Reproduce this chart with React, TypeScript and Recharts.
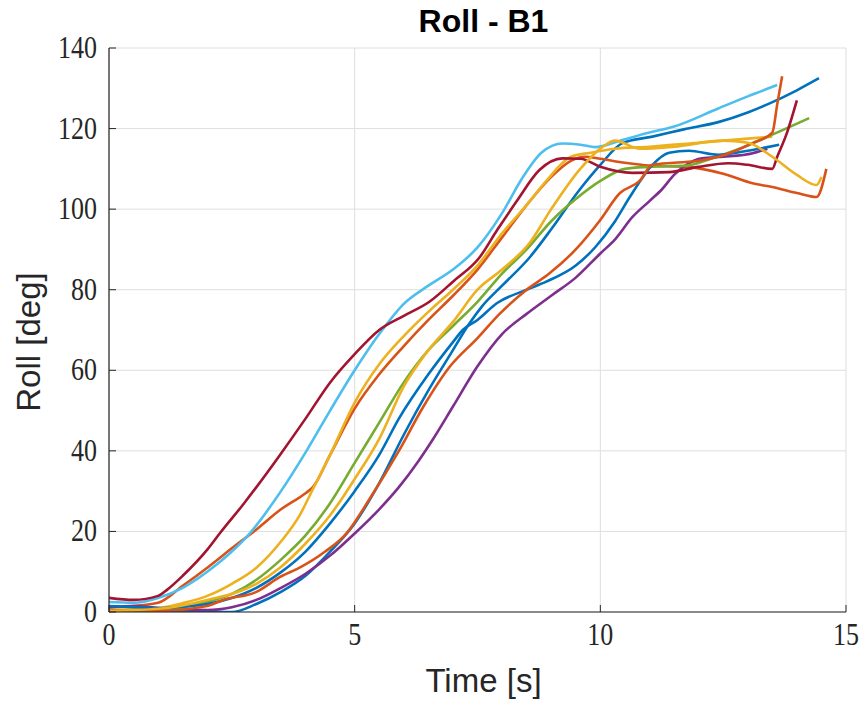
import { CartesianGrid, Line, LineChart, XAxis, YAxis } from "recharts";

const W = 865;
const H = 708;
const AXIS = "#262626";
const GRID = "#dedede";
const TICK_MARGIN = 12;

const X_TICKS = [0, 5, 10, 15];
const Y_TICKS = [0, 20, 40, 60, 80, 100, 120, 140];

// [time s, roll deg], one array per run
const blueA: [number, number][] = [
  [0, 0.5], [0.5, 0.4], [1, 0.2], [1.5, 0.2], [2, 0.1], [2.5, 0], [3, 2], [3.5, 5], [4, 9], [4.5, 15],
  [5, 22], [5.5, 32], [6, 44], [6.5, 55], [7, 65], [7.3, 71], [7.6, 76], [8, 81], [8.56, 88], [9, 95],
  [9.57, 104.7], [10, 111], [10.45, 116.4], [11.06, 118], [11.7, 119.8], [12.4, 121.6], [13, 124],
  [13.4, 126], [14, 129.5], [14.45, 132.5],
];
const orangeA: [number, number][] = [
  [0, 1.2], [0.5, 1.5], [1, 2.3], [1.5, 6.5], [2, 11], [2.52, 16], [3, 20.5], [3.5, 25.5], [4, 29.5],
  [4.15, 31], [4.5, 39], [5, 50.5], [5.5, 59], [6, 66], [6.5, 72.5], [7, 78.5], [7.5, 85], [8, 93],
  [8.5, 101], [9, 108], [9.4, 112], [9.7, 113], [10, 112.5], [10.5, 111.5], [11, 110.8], [11.75, 110.5],
  [12.5, 108.8], [13.1, 106.4], [13.5, 105.5], [14, 104], [14.4, 103], [14.6, 110],
];
const yellowA: [number, number][] = [
  [0, 0.5], [0.5, 0.7], [1, 1], [1.5, 2.2], [2, 4], [2.5, 7], [3, 11], [3.5, 17.5], [3.88, 24],
  [4.15, 30.5], [4.5, 39], [5, 52], [5.5, 61.5], [6, 68.5], [6.5, 74.5], [7, 80], [7.5, 86], [8, 94],
  [8.5, 101], [8.9, 107], [9.4, 113], [9.8, 114], [10.3, 115], [11, 115.5], [12, 116.5], [13, 117.5],
  [13.5, 118],
];
const purple: [number, number][] = [
  [0, 1.2], [0.5, 1.5], [1, 1], [1.5, 0.6], [2, 0.5], [2.5, 1.2], [3, 3], [3.5, 6], [4, 9.5],
  [4.5, 14], [5, 19.5], [5.5, 25.5], [5.9, 31], [6.3, 37.5], [6.6, 43], [7, 51], [7.5, 61], [8, 69],
  [8.5, 74], [9, 78.5], [9.5, 83], [10, 89], [10.3, 92.5], [10.65, 98], [11, 102], [11.26, 105],
  [11.5, 108.5], [11.75, 111], [12.07, 112.6], [12.5, 113], [13.1, 113.9], [13.4, 115],
];
const green: [number, number][] = [
  [0, 0.3], [0.5, 0.2], [1, 0.5], [1.5, 1.2], [2, 2.5], [2.5, 4.5], [3, 8], [3.5, 13], [4, 19],
  [4.5, 27], [5, 37], [5.5, 47], [6, 57], [6.5, 65], [7, 71], [7.5, 77], [8, 84], [8.5, 90], [9, 97],
  [9.5, 102.5], [10, 107], [10.5, 110], [11, 110.5], [11.75, 110.8], [12.25, 112.5], [12.75, 114.6],
  [13.5, 118.5], [14.25, 122.6],
];
const lightBlue: [number, number][] = [
  [0, 2.5], [0.5, 2.3], [1, 3.5], [1.5, 6], [2, 10], [2.5, 15], [2.87, 19.6], [3.5, 30], [4.02, 40],
  [4.5, 50], [5, 60], [5.5, 69], [6, 76.5], [6.5, 81], [7, 85], [7.5, 90.5], [8, 99], [8.4, 107.5],
  [8.8, 114], [9.23, 116.3], [9.6, 116], [9.9, 115.4], [10.4, 117], [11, 119], [11.5, 120.5],
  [12.4, 125], [13, 128], [13.6, 130.8],
];
const darkRed: [number, number][] = [
  [0, 3.5], [0.5, 3], [1, 4], [1.18, 5.5], [1.5, 9], [2, 15.5], [2.26, 19.6], [2.75, 27], [3, 31],
  [3.48, 39], [4, 48], [4.49, 56.8], [5, 64], [5.5, 70], [6, 73.5], [6.52, 77], [7, 82], [7.54, 88],
  [7.9, 94.8], [8.3, 102], [8.76, 109.7], [9.23, 112.6], [9.6, 112.5], [10, 110.5], [10.65, 109],
  [11.4, 109.2], [12, 110.5], [12.6, 111.4], [13, 111], [13.5, 110], [13.6, 113], [13.8, 119], [14, 127],
];
const blueB: [number, number][] = [
  [0, 1.5], [0.5, 1.2], [1, 1], [1.5, 1.3], [2, 2], [2.5, 3.5], [3, 6], [3.48, 9.7], [4, 15], [4.5, 22],
  [5, 30], [5.5, 39], [5.9, 48], [6.5, 59], [7, 67], [7.2, 70], [7.5, 72.5], [7.9, 76.7], [8.5, 80],
  [8.9, 82], [9.5, 86], [9.9, 90.6], [10.3, 97], [10.6, 103], [11.06, 111], [11.4, 114], [11.8, 114.5],
  [12.4, 113.5], [13, 114.5], [13.64, 116],
];
const orangeB: [number, number][] = [
  [0, 0.5], [1, 0.3], [2, 1.5], [2.32, 3], [3, 5], [3.48, 8.7], [3.88, 11], [4.4, 15], [4.84, 19.6],
  [5.3, 28], [5.9, 40], [6.4, 51], [6.93, 60.8], [7.5, 68], [7.95, 74], [8.5, 80], [8.96, 84], [9.5, 90],
  [9.98, 97], [10.4, 104], [10.8, 107], [11.06, 111], [11.5, 111.5], [12, 112], [12.4, 113],
  [13.1, 116.4], [13.5, 119], [13.6, 126], [13.7, 133],
];
const yellowB: [number, number][] = [
  [0, 0.3], [1, 0.8], [2, 3], [3, 7], [3.48, 11], [4, 17], [4.5, 24], [4.76, 28.5], [5, 33], [5.5, 43],
  [6, 56], [6.5, 65], [7, 72], [7.5, 80], [8, 85], [8.56, 91.6], [9, 100], [9.57, 109.7], [10.04, 115.4],
  [10.3, 117], [10.8, 115], [11.5, 115.5], [12.5, 117], [13, 116.5], [13.5, 113], [14, 108.5],
  [14.4, 106], [14.5, 108],
];

const SERIES = [
  { name: "run1", color: "#0072BD", points: blueA },
  { name: "run2", color: "#D95319", points: orangeA },
  { name: "run3", color: "#EDB120", points: yellowA },
  { name: "run4", color: "#7E2F8E", points: purple },
  { name: "run5", color: "#77AC30", points: green },
  { name: "run6", color: "#4DBEEE", points: lightBlue },
  { name: "run7", color: "#A2142F", points: darkRed },
  { name: "run8", color: "#0072BD", points: blueB },
  { name: "run9", color: "#D95319", points: orangeB },
  { name: "run10", color: "#EDB120", points: yellowB },
];

// tick labels in the reference are a tall serif (LaTeX style)
const TICK_FONT = { fontFamily: "'Liberation Serif', serif", fontSize: 26, fill: AXIS };
const TICK_STRETCH = 1.2;

function XTick(props: any) {
  const { x, y, payload } = props;
  const axisY = y - TICK_MARGIN;
  return (
    <g>
      <line x1={x} x2={x} y1={axisY} y2={axisY - 7} stroke={AXIS} strokeWidth={1} />
      <text transform={`translate(${x},${y + 21}) scale(1,${TICK_STRETCH})`} textAnchor="middle" {...TICK_FONT}>
        {payload.value}
      </text>
    </g>
  );
}

function YTick(props: any) {
  const { x, y, payload } = props;
  const axisX = x + TICK_MARGIN;
  return (
    <g>
      <line x1={axisX} x2={axisX + 7} y1={y} y2={y} stroke={AXIS} strokeWidth={1} />
      <text transform={`translate(${x},${y + 10}) scale(1,${TICK_STRETCH})`} textAnchor="end" {...TICK_FONT}>
        {payload.value}
      </text>
    </g>
  );
}

const LABEL_FONT = "'Liberation Sans', Arial, sans-serif";

export default function App() {
  return (
    <div style={{ position: "absolute", left: 0, top: 0, width: W, height: H, background: "#fff" }}>
      <LineChart width={W} height={H} margin={{ top: 48, right: 19, bottom: 56, left: 49 }}>
        <CartesianGrid stroke={GRID} strokeWidth={1} />
        <XAxis
          type="number"
          dataKey="t"
          domain={[0, 15]}
          ticks={X_TICKS}
          allowDataOverflow
          height={40}
          tickSize={0}
          tickMargin={TICK_MARGIN}
          tickLine={false}
          axisLine={{ stroke: AXIS, strokeWidth: 1.2 }}
          tick={<XTick />}
        />
        <YAxis
          type="number"
          domain={[0, 140]}
          ticks={Y_TICKS}
          allowDataOverflow
          width={60}
          tickSize={0}
          tickMargin={TICK_MARGIN}
          tickLine={false}
          axisLine={{ stroke: AXIS, strokeWidth: 1.2 }}
          tick={<YTick />}
        />
        {SERIES.map((s) => (
          <Line
            key={s.name}
            data={s.points.map(([t, v]) => ({ t, v }))}
            dataKey="v"
            type="monotone"
            stroke={s.color}
            strokeWidth={2.6}
            dot={false}
            activeDot={false}
            isAnimationActive={false}
          />
        ))}
      </LineChart>
      <div
        style={{
          position: "absolute",
          top: 3,
          left: 115,
          width: 737,
          textAlign: "center",
          fontFamily: LABEL_FONT,
          fontWeight: "bold",
          fontSize: 32,
          color: "#000",
        }}
      >
        Roll - B1
      </div>
      <div
        style={{
          position: "absolute",
          top: 662,
          left: 115,
          width: 737,
          textAlign: "center",
          fontFamily: LABEL_FONT,
          fontSize: 33,
          color: AXIS,
        }}
      >
        Time [s]
      </div>
      <div
        style={{
          position: "absolute",
          left: 29,
          top: 342,
          transform: "translate(-50%, -50%) rotate(-90deg)",
          whiteSpace: "nowrap",
          fontFamily: LABEL_FONT,
          fontSize: 33,
          color: AXIS,
        }}
      >
        Roll [deg]
      </div>
    </div>
  );
}
